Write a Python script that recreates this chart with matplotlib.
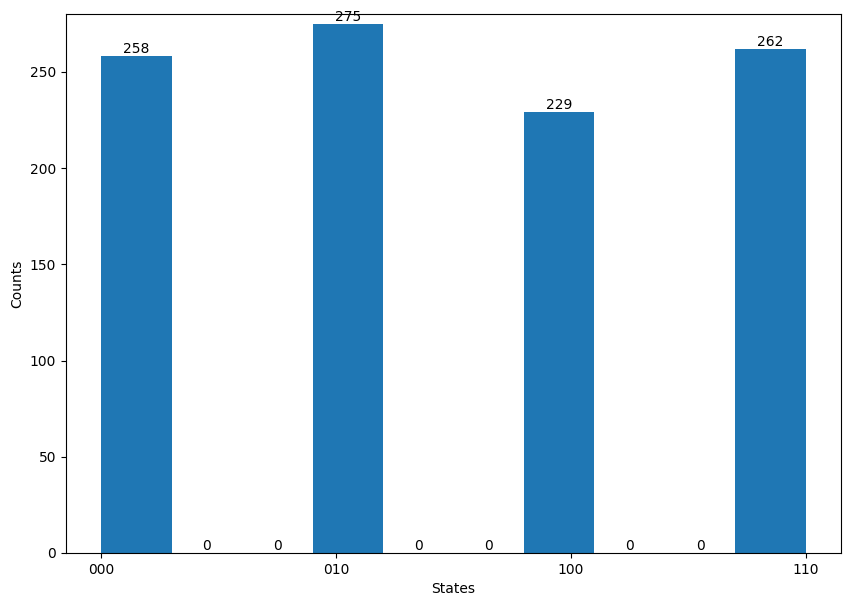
import matplotlib
matplotlib.use('Agg')
import matplotlib.pyplot as plt

# measured outcomes of a 3-qubit circuit (1024 shots)
states = ['000', '010', '100', '110']
counts = [258, 275, 229, 262]

fig = plt.figure(figsize=(8.5, 6.06), dpi=100)
ax = fig.add_axes([66 / 850, 53 / 606, 775 / 850, 539 / 606])

n, bins, patches = ax.hist(states, bins=10, weights=counts, color='#1f77b4')
ax.bar_label(patches, labels=[f'{int(v)}' for v in n])

ax.set_ylim(0, 280)
ax.set_xlabel('States')
ax.set_ylabel('Counts')

fig.savefig('out.png')
